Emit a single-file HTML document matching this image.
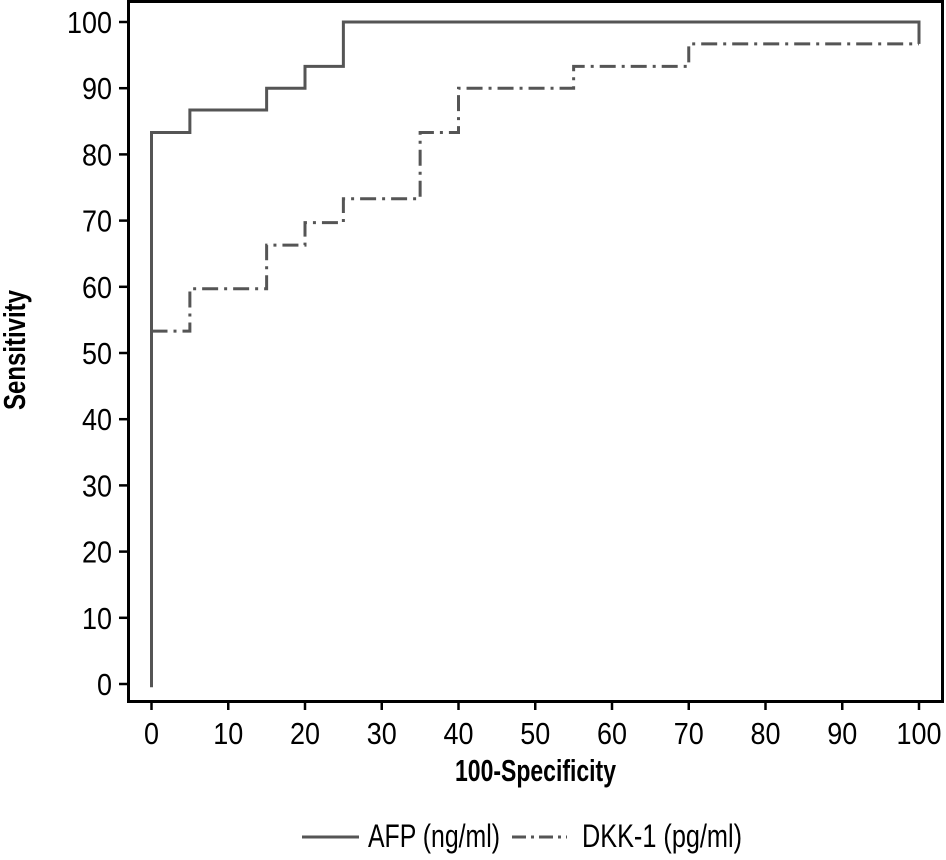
<!DOCTYPE html>
<html><head><meta charset="utf-8"><style>
body{margin:0;background:#fff}
svg text{font-family:"Liberation Sans Narrow","Liberation Sans",sans-serif;fill:#000}
</style></head><body>
<svg id="chart" width="946" height="855" viewBox="0 0 946 855" xmlns="http://www.w3.org/2000/svg">
<rect x="128.5" y="1.5" width="814" height="700" fill="none" stroke="#000" stroke-width="3"/>
<g id="ticks"></g>
<g id="series"></g>
<text x="455" y="781" font-size="31" font-weight="bold" textLength="161" lengthAdjust="spacingAndGlyphs">100-Specificity</text>
<text transform="translate(25,410) rotate(-90)" font-size="31" font-weight="bold" textLength="120" lengthAdjust="spacingAndGlyphs">Sensitivity</text>
<line x1="302" y1="837" x2="359" y2="837" stroke="#555" stroke-width="3"/>
<text x="368" y="847" font-size="32" textLength="132" lengthAdjust="spacingAndGlyphs">AFP (ng/ml)</text>
<line x1="512" y1="837" x2="567" y2="837" stroke="#555" stroke-width="3" stroke-dasharray="14,5,3,5"/>
<text x="582" y="847" font-size="32" textLength="160" lengthAdjust="spacingAndGlyphs">DKK-1 (pg/ml)</text>
</svg>
<script>
const xTicks=[0,10,20,30,40,50,60,70,80,90,100];
const yTicks=[0,10,20,30,40,50,60,70,80,90,100];
const afpX=[0,0,5,5,15,15,20,20,25,25,100,100];
const afpY=[-0.5,83.3,83.3,86.7,86.7,90,90,93.3,93.3,100,100,96.7];
const dkkX=[0,5,5,15,15,20,20,25,25,35,35,40,40,55,55,70,70,100];
const dkkY=[53.3,53.3,59.7,59.7,66.3,66.3,69.7,69.7,73.3,73.3,83.3,83.3,90,90,93.3,93.3,96.7,96.7];
const sx=v=>151.5+v*7.675, sy=v=>684-v*6.62;
const NS="http://www.w3.org/2000/svg";
const tg=document.getElementById('ticks'), sg=document.getElementById('series');
function mk(tag,attrs,parent){const e=document.createElementNS(NS,tag);for(const k in attrs)e.setAttribute(k,attrs[k]);parent.appendChild(e);return e;}
xTicks.forEach(t=>{
 const l=mk('line',{x1:sx(t),x2:sx(t),y1:701,y2:710,stroke:'#000','stroke-width':2.5},tg);
 
 
 const n=String(t).length;
 const tx=mk('text',{x:sx(t)-n*7.5,y:744,'font-size':31,textLength:n*15,lengthAdjust:'spacingAndGlyphs'},tg);
 tx.textContent=t;
 
 
});
yTicks.forEach(t=>{
 const l=mk('line',{x1:119,x2:128,y1:sy(t),y2:sy(t),stroke:'#000','stroke-width':2.5},tg);
 
 
 const n=String(t).length;
 const tx=mk('text',{x:112-n*15,y:sy(t)+11,'font-size':31,textLength:n*15,lengthAdjust:'spacingAndGlyphs'},tg);
 tx.textContent=t;
 
 
});
function pts(X,Y){return X.map((x,i)=>sx(x)+','+sy(Y[i])).join(' ');}
const d=mk('polyline',{points:pts(dkkX,dkkY),fill:'none',stroke:'#555','stroke-width':3,'stroke-dasharray':'16,6,3,6'},sg);


const a=mk('polyline',{points:pts(afpX,afpY),fill:'none',stroke:'#555','stroke-width':3},sg);


</script>
</body></html>
